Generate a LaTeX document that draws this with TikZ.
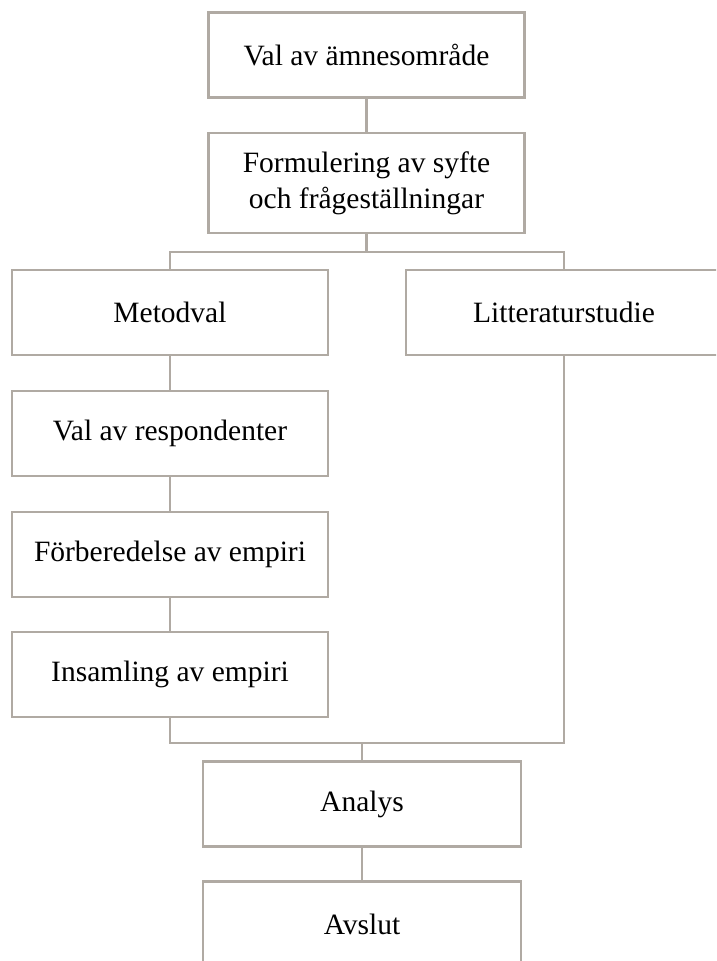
\documentclass[tikz,border=0pt]{standalone}
\usepackage{fontspec}
\setmainfont{Liberation Serif}
\definecolor{edge}{RGB}{176,170,163}
\begin{document}
\begin{tikzpicture}[x=1pt,y=-1pt,
  box/.style={draw=edge,line width=2.5pt,rectangle,minimum width=316pt,minimum height=85pt,inner sep=0pt,align=center,font=\fontsize{29.5}{36}\selectfont},
  link/.style={draw=edge,line width=2.5pt}]
\useasboundingbox (0,0) rectangle (716,961);
\clip (0,0) rectangle (716,961);
\node[box] (b1) at (366.5,55) {Val av ämnesområde};
\node[box,minimum height=100pt] (b2) at (366.5,183) {Formulering av syfte\\och frågeställningar};
\node[box] (metod) at (170,312.5) {Metodval};
\node[box] (litt) at (564,312.5) {Litteraturstudie};
\node[box] (resp) at (170,433.5) {Val av respondenter};
\node[box] (forb) at (170,554.5) {Förberedelse av empiri};
\node[box] (insam) at (170,674.5) {Insamling av empiri};
\node[box,minimum width=318pt] (analys) at (362,804) {Analys};
\node[box,minimum width=318pt] (avslut) at (362,924) {Avslut};
\coordinate (topbar) at (0,252);
\coordinate (botbar) at (0,743);
\draw[link] (b1.south) -- (b2.north);
\draw[link] (b2.south) -- (b2.south |- topbar);
\draw[link] (metod.north) -- (metod.north |- topbar) -- (litt.north |- topbar) -- (litt.north);
\draw[link] (metod.south) -- (resp.north);
\draw[link] (resp.south) -- (forb.north);
\draw[link] (forb.south) -- (insam.north);
\draw[link] (insam.south) -- (insam.south |- botbar) -- (litt.south |- botbar) -- (litt.south);
\draw[link] (analys.north |- botbar) -- (analys.north);
\draw[link] (analys.south) -- (avslut.north);
\end{tikzpicture}
\end{document}
